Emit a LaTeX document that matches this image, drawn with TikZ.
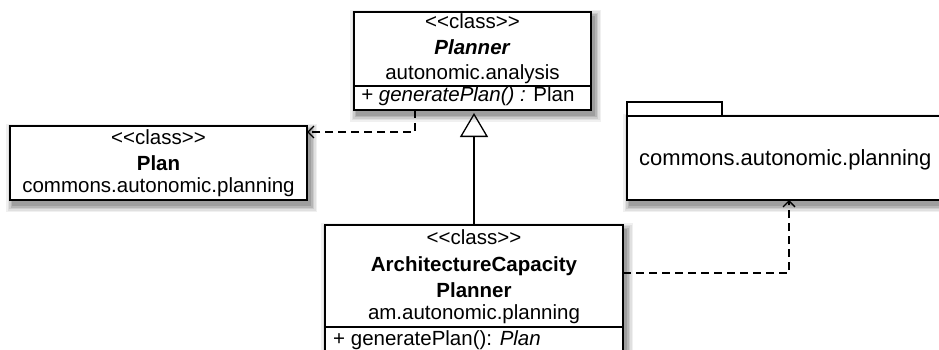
\documentclass[tikz,border=0pt]{standalone}
\usepackage{fontspec}
\setmainfont{Liberation Sans}
\usetikzlibrary{arrows.meta,backgrounds}
\newcommand\myshadow[1]{%
  \foreach \r/\c in {7/6,5.5/12,4/20,2.5/29,1/38}{%
    \fill[black!\c] ([xshift=3pt-\r pt, yshift=-5pt-\r pt]#1.south west)
      rectangle ([xshift=3pt+\r pt, yshift=-5pt+\r pt]#1.north east);}}
\begin{document}
\begin{tikzpicture}[x=1pt,y=-1pt,
  box/.style={draw=black, line width=1.6pt, fill=white, inner sep=0pt, outer sep=0pt},
  txt/.style={inner sep=0pt, anchor=base, font=\fontsize{20.5}{24}\selectfont},
  ltxt/.style={txt, anchor=base west},
  divider/.style={line width=1.4pt},
  dep/.style={line width=1.3pt, dash pattern=on 8pt off 5pt,
    -{Straight Barb[length=6pt,width=12pt,line width=1.3pt]}},
  inh/.style={line width=1.3pt, shorten >=3pt,
    -{Triangle[open,length=24pt,width=28pt,line width=1.3pt]}}
]
\useasboundingbox (0,0) rectangle (939,350);
\begin{scope}
\clip (0,0) rectangle (939,350);

% Planner
\node[box, minimum width=237pt, minimum height=98pt] (planner) at (472.5,61) {};
\draw[divider] (planner.west |- 0,86) -- (planner.east |- 0,86);
\node[txt] (p1) at (472.5,29) {<{}<class>{}>};
\node[txt] (p2) at (472.5,55) {\textbf{\textit{Planner}}};
\node[txt] (p3) at (472.5,80) {autonomic.analysis};
\node[ltxt] (p4) at (361,101.5) {\textit{+ generatePlan() :} Plan};

% Plan
\node[box, minimum width=297pt, minimum height=74pt] (plan) at (158.5,163) {};
\node[txt] (q1) at (158.5,144) {<{}<class>{}>};
\node[txt] (q2) at (158.5,170) {\textbf{Plan}};
\node[txt] (q3) at (158.5,192) {commons.autonomic.planning};

% ArchitectureCapacityPlanner
\node[box, minimum width=298pt, minimum height=140pt] (arch) at (474,295) {};
\draw[divider] (arch.west |- 0,327) -- (arch.east |- 0,327);
\node[txt] (a1) at (474,244) {<{}<class>{}>};
\node[txt] (a2) at (474,271.5) {\textbf{ArchitectureCapacity}};
\node[txt] (a3) at (474,297) {\textbf{Planner}};
\node[txt] (a4) at (474,319) {am.autonomic.planning};
\node[ltxt] (a5) at (333,345) {+ generatePlan(): \textit{Plan}};

% Package
\node[box, minimum width=95pt, minimum height=14pt] (tab) at (674.5,109) {};
\node[box, minimum width=340pt, minimum height=84pt] (pkg) at (797,158) {};
\node[ltxt, font=\fontsize{22}{26}\selectfont] (k1) at (639,165) {commons.autonomic.planning};

% Connectors
\draw[inh] (arch.north) -- (arch.north |- planner.south);
\draw[dep] (planner.south -| 415,0) |- (plan.east |- 0,132);
\draw[dep] (arch.east |- 0,273) -| (pkg.south -| 789,0);
\end{scope}

\begin{scope}[on background layer]
\clip (0,0) rectangle (939,350);
\fill[white] (0,0) rectangle (939,350);
\myshadow{planner}
\myshadow{plan}
\myshadow{arch}
\myshadow{pkg}
\end{scope}
\end{tikzpicture}
\end{document}
